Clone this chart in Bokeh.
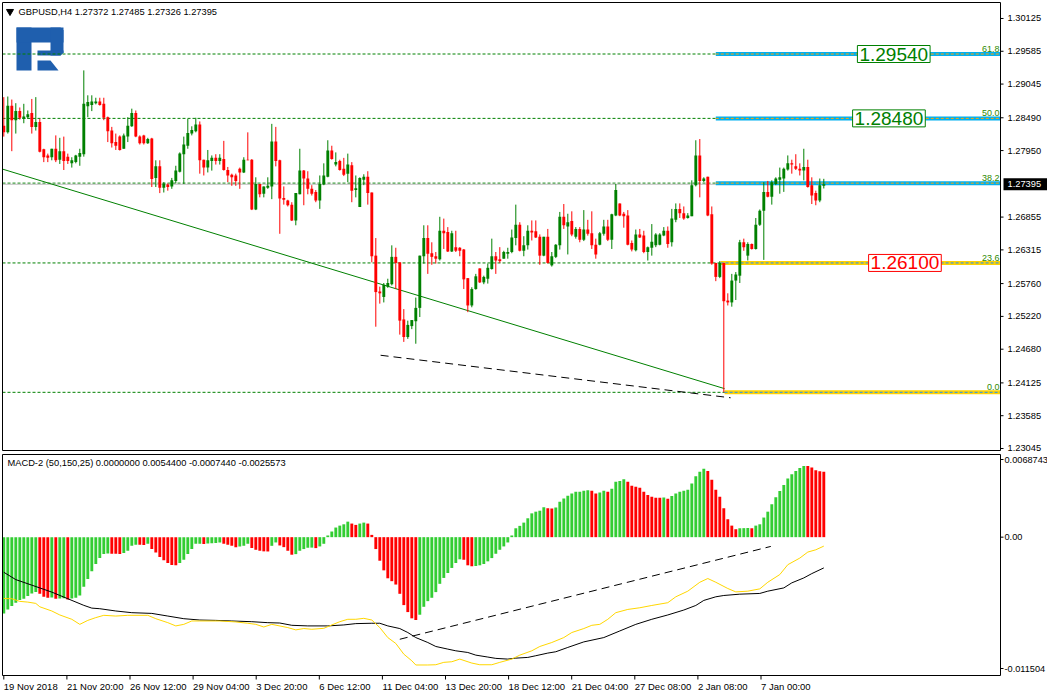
from bokeh.plotting import figure
from bokeh.models import Range1d, Label, ColumnDataSource
from bokeh.layouts import column
from bokeh.embed import file_html
from bokeh.resources import INLINE
from bokeh.core.properties import value

# ------------------------------------------------------------------ data
symbol_header = "GBPUSD,H4  1.27372 1.27485 1.27326 1.27395"
macd_header = "MACD-2 (50,150,25) 0.0000000 0.0054400 -0.0007440 -0.0025573"

opens = [
 1.2836, 1.2825, 1.2869, 1.2845, 1.2860, 1.2847, 1.2850, 1.2857, 1.2834, 1.2842,
 1.2797, 1.2787, 1.2784, 1.2798, 1.2780, 1.2794, 1.2785, 1.2774, 1.2776, 1.2785,
 1.2789, 1.2868, 1.2870, 1.2873, 1.2876, 1.2872, 1.2850, 1.2828, 1.2809, 1.2818,
 1.2798, 1.2818, 1.2835, 1.2857, 1.2818, 1.2820, 1.2807, 1.2815, 1.2750, 1.2769,
 1.2734, 1.2739, 1.2736, 1.2745, 1.2760, 1.2789, 1.2803, 1.2823, 1.2827, 1.2838,
 1.2780, 1.2767, 1.2778, 1.2783, 1.2778, 1.2781, 1.2763, 1.2755, 1.2754, 1.2765,
 1.2759, 1.2780, 1.2780, 1.2698, 1.2740, 1.2724, 1.2734, 1.2736, 1.2810, 1.2779,
 1.2717, 1.2713, 1.2706, 1.2680, 1.2723, 1.2762, 1.2749, 1.2732, 1.2727, 1.2713,
 1.2739, 1.2752, 1.2795, 1.2772, 1.2778, 1.2765, 1.2757, 1.2771, 1.2730, 1.2702,
 1.2747, 1.2752, 1.2726, 1.2622, 1.2563, 1.2554, 1.2571, 1.2575, 1.2620, 1.2611,
 1.2517, 1.2488, 1.2506, 1.2514, 1.2536, 1.2621, 1.2651, 1.2626, 1.2621, 1.2616,
 1.2663, 1.2661, 1.2629, 1.2636, 1.2635, 1.2632, 1.2585, 1.2540, 1.2567, 1.2601,
 1.2578, 1.2584, 1.2600, 1.2621, 1.2616, 1.2617, 1.2625, 1.2628, 1.2651, 1.2673,
 1.2630, 1.2639, 1.2663, 1.2662, 1.2653, 1.2622, 1.2653, 1.2606, 1.2620, 1.2639,
 1.2686, 1.2670, 1.2679, 1.2653, 1.2666, 1.2648, 1.2665, 1.2659, 1.2640, 1.2640,
 1.2658, 1.2670, 1.2648, 1.2688, 1.2708, 1.2691, 1.2688, 1.2643, 1.2631, 1.2657,
 1.2655, 1.2628, 1.2635, 1.2639, 1.2640, 1.2655, 1.2663, 1.2644, 1.2681, 1.2699,
 1.2692, 1.2684, 1.2687, 1.2738, 1.2787, 1.2745, 1.2752, 1.2690, 1.2610, 1.2587,
 1.2610, 1.2548, 1.2545, 1.2581, 1.2589, 1.2644, 1.2622, 1.2641, 1.2633, 1.2673,
 1.2696, 1.2727, 1.2719, 1.2740, 1.2747, 1.2749, 1.2764, 1.2774, 1.2769, 1.2765,
 1.2762, 1.2768, 1.2738, 1.2725, 1.2713, 1.27372]

highs = [
 1.2883, 1.2884, 1.2879, 1.2873, 1.2866, 1.2872, 1.2861, 1.2880, 1.2883, 1.2847,
 1.2798, 1.2790, 1.2798, 1.2820, 1.2816, 1.2818, 1.2790, 1.2784, 1.2788, 1.2798,
 1.2927, 1.2886, 1.2886, 1.2882, 1.2882, 1.2882, 1.2851, 1.2834, 1.2823, 1.2820,
 1.2823, 1.2850, 1.2864, 1.2861, 1.2820, 1.2821, 1.2816, 1.2816, 1.2779, 1.2779,
 1.2743, 1.2741, 1.2750, 1.2770, 1.2792, 1.2818, 1.2847, 1.2835, 1.2849, 1.2843,
 1.2780, 1.2796, 1.2787, 1.2789, 1.2789, 1.2811, 1.2768, 1.2757, 1.2757, 1.2767,
 1.2784, 1.2825, 1.2781, 1.2751, 1.2740, 1.2736, 1.2751, 1.2839, 1.2834, 1.2780,
 1.2736, 1.2714, 1.2710, 1.2725, 1.2798, 1.2763, 1.2761, 1.2738, 1.2730, 1.2754,
 1.2774, 1.2812, 1.2803, 1.2792, 1.2780, 1.2783, 1.2790, 1.2776, 1.2754, 1.2751,
 1.2756, 1.2761, 1.2726, 1.2651, 1.2571, 1.2577, 1.2584, 1.2639, 1.2635, 1.2611,
 1.2534, 1.2515, 1.2516, 1.2553, 1.2622, 1.2672, 1.2672, 1.2644, 1.2628, 1.2686,
 1.2683, 1.2669, 1.2663, 1.2663, 1.2636, 1.2633, 1.2585, 1.2570, 1.2592, 1.2601,
 1.2589, 1.2609, 1.2650, 1.2628, 1.2636, 1.2630, 1.2635, 1.2665, 1.2706, 1.2677,
 1.2654, 1.2672, 1.2680, 1.2680, 1.2657, 1.2653, 1.2666, 1.2628, 1.2641, 1.2694,
 1.2707, 1.2691, 1.2695, 1.2669, 1.2669, 1.2697, 1.2681, 1.2695, 1.2650, 1.2661,
 1.2681, 1.2681, 1.2691, 1.2740, 1.2708, 1.2694, 1.2697, 1.2647, 1.2665, 1.2666,
 1.2663, 1.2637, 1.2674, 1.2659, 1.2659, 1.2669, 1.2670, 1.2699, 1.2708, 1.2708,
 1.2703, 1.2692, 1.2746, 1.2812, 1.2814, 1.2751, 1.2752, 1.2703, 1.2610, 1.2613,
 1.2610, 1.2560, 1.2592, 1.2595, 1.2648, 1.2650, 1.2644, 1.2642, 1.2684, 1.2698,
 1.2743, 1.2745, 1.2746, 1.2751, 1.2767, 1.2767, 1.2787, 1.2780, 1.2789, 1.2774,
 1.2798, 1.2780, 1.2751, 1.2729, 1.2749, 1.27485]

lows = [
 1.2818, 1.2823, 1.2794, 1.2823, 1.2846, 1.2840, 1.2847, 1.2823, 1.2828, 1.2792,
 1.2776, 1.2776, 1.2779, 1.2776, 1.2773, 1.2763, 1.2773, 1.2767, 1.2774, 1.2770,
 1.2785, 1.2850, 1.2860, 1.2871, 1.2869, 1.2845, 1.2809, 1.2800, 1.2796, 1.2795,
 1.2798, 1.2809, 1.2834, 1.2817, 1.2805, 1.2805, 1.2806, 1.2735, 1.2735, 1.2725,
 1.2726, 1.2729, 1.2732, 1.2741, 1.2759, 1.2740, 1.2798, 1.2820, 1.2825, 1.2757,
 1.2754, 1.2759, 1.2762, 1.2772, 1.2772, 1.2762, 1.2743, 1.2737, 1.2737, 1.2732,
 1.2758, 1.2779, 1.2697, 1.2697, 1.2718, 1.2718, 1.2732, 1.2715, 1.2769, 1.2658,
 1.2706, 1.2703, 1.2679, 1.2672, 1.2723, 1.2705, 1.2723, 1.2721, 1.2710, 1.2699,
 1.2738, 1.2751, 1.2780, 1.2769, 1.2762, 1.2753, 1.2743, 1.2710, 1.2718, 1.2702,
 1.2738, 1.2706, 1.2611, 1.2505, 1.2543, 1.2545, 1.2569, 1.2573, 1.2567, 1.2492,
 1.2480, 1.2485, 1.2501, 1.2477, 1.2521, 1.2609, 1.2592, 1.2607, 1.2609, 1.2614,
 1.2633, 1.2628, 1.2628, 1.2628, 1.2621, 1.2567, 1.2529, 1.2537, 1.2566, 1.2577,
 1.2575, 1.2576, 1.2599, 1.2592, 1.2610, 1.2617, 1.2617, 1.2626, 1.2639, 1.2629,
 1.2621, 1.2632, 1.2647, 1.2651, 1.2607, 1.2621, 1.2609, 1.2604, 1.2618, 1.2632,
 1.2666, 1.2624, 1.2654, 1.2650, 1.2644, 1.2646, 1.2655, 1.2633, 1.2617, 1.2639,
 1.2655, 1.2646, 1.2633, 1.2687, 1.2687, 1.2668, 1.2639, 1.2629, 1.2629, 1.2651,
 1.2626, 1.2614, 1.2622, 1.2636, 1.2639, 1.2654, 1.2635, 1.2637, 1.2677, 1.2684,
 1.2681, 1.2683, 1.2687, 1.2736, 1.2718, 1.2743, 1.2687, 1.2607, 1.2580, 1.2585,
 1.2397, 1.2540, 1.2538, 1.2549, 1.2577, 1.2630, 1.2614, 1.2632, 1.2632, 1.2671,
 1.2615, 1.2718, 1.2706, 1.2738, 1.2724, 1.2727, 1.2762, 1.2757, 1.2763, 1.2754,
 1.2746, 1.2734, 1.2707, 1.2705, 1.2710, 1.27326]

closes = [
 1.2825, 1.2869, 1.2845, 1.2860, 1.2849, 1.2851, 1.2855, 1.2834, 1.2842, 1.2793,
 1.2784, 1.2783, 1.2798, 1.2779, 1.2794, 1.2778, 1.2778, 1.2779, 1.2787, 1.2791,
 1.2872, 1.2875, 1.2876, 1.2876, 1.2870, 1.2849, 1.2827, 1.2807, 1.2803, 1.2796,
 1.2820, 1.2836, 1.2857, 1.2818, 1.2807, 1.2807, 1.2814, 1.2748, 1.2769, 1.2734,
 1.2741, 1.2735, 1.2746, 1.2762, 1.2790, 1.2805, 1.2824, 1.2829, 1.2838, 1.2779,
 1.2767, 1.2779, 1.2783, 1.2778, 1.2783, 1.2763, 1.2754, 1.2751, 1.2745, 1.2759,
 1.2780, 1.2779, 1.2698, 1.2740, 1.2723, 1.2736, 1.2737, 1.2810, 1.2778, 1.2716,
 1.2714, 1.2705, 1.2680, 1.2725, 1.2762, 1.2749, 1.2732, 1.2724, 1.2713, 1.2740,
 1.2754, 1.2795, 1.2781, 1.2776, 1.2763, 1.2755, 1.2772, 1.2729, 1.2733, 1.2750,
 1.2752, 1.2725, 1.2621, 1.2562, 1.2560, 1.2574, 1.2577, 1.2620, 1.2610, 1.2515,
 1.2488, 1.2508, 1.2516, 1.2536, 1.2622, 1.2651, 1.2625, 1.2620, 1.2617, 1.2663,
 1.2659, 1.2629, 1.2659, 1.2630, 1.2630, 1.2583, 1.2540, 1.2567, 1.2588, 1.2578,
 1.2587, 1.2602, 1.2621, 1.2614, 1.2613, 1.2628, 1.2628, 1.2652, 1.2673, 1.2630,
 1.2639, 1.2663, 1.2660, 1.2652, 1.2622, 1.2653, 1.2610, 1.2621, 1.2640, 1.2686,
 1.2672, 1.2677, 1.2657, 1.2666, 1.2648, 1.2665, 1.2658, 1.2639, 1.2624, 1.2659,
 1.2670, 1.2648, 1.2690, 1.2730, 1.2688, 1.2687, 1.2640, 1.2632, 1.2657, 1.2652,
 1.2628, 1.2636, 1.2645, 1.2657, 1.2657, 1.2663, 1.2641, 1.2683, 1.2699, 1.2692,
 1.2683, 1.2688, 1.2738, 1.2787, 1.2745, 1.2749, 1.2688, 1.2609, 1.2587, 1.2610,
 1.2547, 1.2545, 1.2581, 1.2591, 1.2644, 1.2636, 1.2641, 1.2633, 1.2673, 1.2696,
 1.2727, 1.2719, 1.2743, 1.2749, 1.2751, 1.2765, 1.2774, 1.2772, 1.2765, 1.2762,
 1.2768, 1.2735, 1.2721, 1.2713, 1.2738, 1.27395]

macd_hist = [
 -0.00634, -0.00601, -0.00573, -0.00545, -0.00523, -0.00512, -0.00490, -0.00468, -0.00457, -0.00471,
 -0.00496, -0.00504, -0.00502, -0.00512, -0.00510, -0.00508, -0.00518, -0.00510, -0.00504, -0.00485,
 -0.00413, -0.00347, -0.00284, -0.00223, -0.00174, -0.00141, -0.00135, -0.00137, -0.00138, -0.00139,
 -0.00132, -0.00113, -0.00072, -0.00063, -0.00064, -0.00065, -0.00055, -0.00099, -0.00127, -0.00165,
 -0.00193, -0.00215, -0.00231, -0.00233, -0.00215, -0.00187, -0.00141, -0.00099, -0.00055, -0.00054,
 -0.00056, -0.00053, -0.00050, -0.00048, -0.00044, -0.00055, -0.00063, -0.00072, -0.00083, -0.00077,
 -0.00072, -0.00055, -0.00091, -0.00105, -0.00113, -0.00118, -0.00119, -0.00072, -0.00044, -0.00069,
 -0.00083, -0.00113, -0.00146, -0.00141, -0.00113, -0.00099, -0.00088, -0.00087, -0.00091, -0.00077,
 -0.00055, 0.00014, 0.00047, 0.00080, 0.00096, 0.00107, 0.00129, 0.00113, 0.00102, 0.00113,
 0.00121, 0.00113, 0.00019, -0.00099, -0.00196, -0.00276, -0.00342, -0.00366, -0.00394, -0.00471,
 -0.00565, -0.00623, -0.00675, -0.00689, -0.00645, -0.00579, -0.00532, -0.00504, -0.00457, -0.00388,
 -0.00339, -0.00298, -0.00256, -0.00215, -0.00184, -0.00188, -0.00234, -0.00242, -0.00240, -0.00234,
 -0.00223, -0.00201, -0.00174, -0.00138, -0.00105, -0.00077, -0.00044, 0.00014, 0.00074, 0.00094,
 0.00121, 0.00157, 0.00198, 0.00212, 0.00220, 0.00248, 0.00240, 0.00239, 0.00246, 0.00295,
 0.00322, 0.00344, 0.00364, 0.00377, 0.00378, 0.00386, 0.00391, 0.00386, 0.00364, 0.00372,
 0.00386, 0.00377, 0.00402, 0.00460, 0.00468, 0.00482, 0.00460, 0.00427, 0.00419, 0.00410,
 0.00377, 0.00350, 0.00336, 0.00328, 0.00327, 0.00329, 0.00320, 0.00342, 0.00364, 0.00377,
 0.00386, 0.00394, 0.00446, 0.00507, 0.00543, 0.00568, 0.00551, 0.00477, 0.00394, 0.00336,
 0.00240, 0.00149, 0.00096, 0.00066, 0.00074, 0.00075, 0.00076, 0.00074, 0.00096, 0.00107,
 0.00163, 0.00212, 0.00273, 0.00331, 0.00383, 0.00433, 0.00488, 0.00523, 0.00551, 0.00576,
 0.00592, 0.00591, 0.00579, 0.00557, 0.00549, 0.00544]

macd_black_x = [0, 3, 7, 12, 16, 20, 22, 24, 28, 32, 37, 41, 45, 49, 53, 57, 62, 66, 69, 72,
                76, 81, 85, 88, 92, 94, 96, 99, 101, 103, 106, 108, 111, 113, 116, 118, 121, 123, 126, 128,
                131, 133, 136, 138, 141, 145, 150, 154, 158, 162, 166, 170, 173, 175, 178, 180, 184, 189, 191, 195,
                197, 200, 202, 205]
macd_black = [-0.00292, -0.00353, -0.00399, -0.00457, -0.00512, -0.00567, -0.00590, -0.00595, -0.00614, -0.00628,
              -0.00634, -0.00656, -0.00678, -0.00689, -0.00692, -0.00697, -0.00703, -0.00711, -0.00714, -0.00733,
              -0.00738, -0.00738, -0.00730, -0.00719, -0.00716, -0.00716, -0.00738, -0.00760, -0.00793, -0.00835,
              -0.00876, -0.00909, -0.00931, -0.00945, -0.00959, -0.00981, -0.00997, -0.01008, -0.01014, -0.01006,
              -0.01000, -0.00986, -0.00964, -0.00953, -0.00917, -0.00871, -0.00835, -0.00780, -0.00725, -0.00683,
              -0.00647, -0.00606, -0.00568, -0.00526, -0.00496, -0.00485, -0.00474, -0.00468, -0.00449, -0.00422,
              -0.00380, -0.00339, -0.00303, -0.0025573]

macd_yellow_x = [0, 2, 4, 6, 8, 9, 12, 14, 17, 19, 21, 23, 25, 28, 31, 36, 38, 41, 43, 45,
                 47, 49, 54, 58, 61, 63, 65, 67, 71, 73, 75, 77, 80, 82, 84, 86, 88, 90, 92, 94,
                 96, 98, 100, 102, 103, 106, 108, 110, 112, 114, 117, 119, 122, 124, 127, 129, 132, 134, 137, 140,
                 142, 145, 147, 149, 151, 153, 156, 159, 162, 166, 168, 171, 174, 176, 178, 181, 183, 186, 189, 191,
                 194, 196, 199, 201, 203, 205]
macd_yellow = [-0.00510, -0.00512, -0.00534, -0.00540, -0.00551, -0.00579, -0.00614, -0.00647, -0.00683, -0.00725,
               -0.00692, -0.00669, -0.00650, -0.00656, -0.00650, -0.00650, -0.00678, -0.00711, -0.00738, -0.00725,
               -0.00697, -0.00697, -0.00697, -0.00705, -0.00716, -0.00725, -0.00747, -0.00725, -0.00752, -0.00771,
               -0.00760, -0.00766, -0.00758, -0.00730, -0.00703, -0.00683, -0.00683, -0.00675, -0.00689, -0.00752,
               -0.00835, -0.00884, -0.00973, -0.01028, -0.01063, -0.01063, -0.01061, -0.01041, -0.01036, -0.01014,
               -0.01047, -0.01061, -0.01061, -0.01041, -0.01014, -0.00981, -0.00945, -0.00909, -0.00876, -0.00835,
               -0.00793, -0.00760, -0.00733, -0.00725, -0.00683, -0.00628, -0.00601, -0.00587, -0.00568, -0.00545,
               -0.00496, -0.00449, -0.00375, -0.00344, -0.00375, -0.00427, -0.00455, -0.00449, -0.00430, -0.00375,
               -0.00311, -0.00229, -0.00174, -0.00124, -0.00105, -0.000744]

price_ticks = [1.30125, 1.29585, 1.29045, 1.28490, 1.27950, 1.26855, 1.26315,
               1.25760, 1.25220, 1.24680, 1.24125, 1.23585, 1.23045]
price_tick_labels = ["1.30125", "1.29585", "1.29045", "1.28490", "1.27950", "1.26855", "1.26315",
                     "1.25760", "1.25220", "1.24680", "1.24125", "1.23585", "1.23045"]
bid_price = 1.27395
bid_label = "1.27395"
price_range = (1.23012, 1.30388)
macd_range = (-0.011504, 0.0068743)
macd_tick_labels = ["0.0068743", "0.00", "-0.011504"]
date_labels = ["19 Nov 2018", "21 Nov 20:00", "26 Nov 12:00", "29 Nov 04:00", "3 Dec 20:00",
               "6 Dec 12:00", "11 Dec 04:00", "13 Dec 20:00", "18 Dec 12:00", "21 Dec 04:00",
               "27 Dec 08:00", "2 Jan 08:00", "7 Jan 00:00"]

fib_levels = ["61.8", "50.0", "38.2", "23.6", "0.0"]
fib_prices = [1.29540, 1.28480, 1.27414, 1.26100, 1.23970]
fib_band_start = [178.0, 178.0, 178.0, 179.2, 180.2]
fib_band_kind = ["blue", "blue", "blue", "yellow", "yellow"]
fib_box_texts = ["1.29540", "1.28480", "1.26100"]
fib_box_prices = [1.29540, 1.28480, 1.26100]
fib_box_bars = [213.4, 212.2, 216.2]
fib_box_kind = ["green", "green", "red"]

trend_green = ([-0.33, 180.2], [1.27645, 1.2403])
trend_dash_main = ([94.2, 181.7], [1.2458, 1.2388])
trend_dash_macd = ([99.0, 191.75], [-0.00849, -0.00077])

# ------------------------------------------------------------------ geometry (page pixels)
W = 1047
FONT = "Liberation Sans"
PX_L, PX_R = 2, 1000                 # chart border (left / right), page x
BAR_L, BAR_R = -0.325, 249.175       # bar index at the borders
K = (PX_R - PX_L) / (BAR_R - BAR_L)  # px per bar


def bx(page_x):
    return BAR_L + (page_x - PX_L) / K


XR = Range1d(bx(0), bx(W))

MAIN_Y0, MAIN_H = 0, 453
MB_T, MB_B = 2, 450                  # main border, page y
P_BOT, P_TOP = price_range


def pp(page_y):
    return P_TOP - (page_y - MB_T) * (P_TOP - P_BOT) / (MB_B - MB_T)


MACD_Y0, MACD_H = MAIN_Y0 + MAIN_H, 243
DB_T, DB_B = 454, 675                # macd border, page y
M_BOT, M_TOP = macd_range


def mp(page_y):
    return M_TOP - (page_y - DB_T) * (M_TOP - M_BOT) / (DB_B - DB_T)


UP, DN = "#008000", "#FF0000"


def base_fig(h, yr):
    f = figure(width=W, height=h, x_range=XR, y_range=yr,
               x_axis_location=None, y_axis_location=None,
               output_backend="svg", toolbar_location=None, min_border=0,
               background_fill_color="white", border_fill_color="white")
    f.grid.visible = False
    f.outline_line_color = None
    return f


# ------------------------------------------------------------------ main panel
p = base_fig(MAIN_H, Range1d(pp(MAIN_Y0 + MAIN_H), pp(MAIN_Y0)))

logo_polys = [
    [(16, 27), (31, 27), (31, 70), (16, 70)],
    [(16, 27), (60, 27), (63, 30), (63, 42), (16, 42)],
    [(50, 27), (63, 27), (63, 52), (60, 55), (50, 55)],
    [(37, 50), (63, 50), (63, 52), (60, 55), (37, 55)],
    [(37, 60), (50, 60), (58, 70), (37, 70)],
]
p.patches([[bx(a) for a, b in poly] for poly in logo_polys],
          [[pp(b) for a, b in poly] for poly in logo_polys],
          fill_color="#1f5fae", line_color=None)

n = len(fib_prices)
p.segment(x0=[BAR_L] * n, x1=[BAR_R] * n, y0=fib_prices, y1=fib_prices,
          line_color="#008000", line_dash="3 2", line_width=1)
p.segment(x0=[BAR_L], x1=[BAR_R], y0=[bid_price], y1=[bid_price], line_color="#C0C0C0", line_width=1)

band_col = {"blue": "#00B0F0", "yellow": "#FFD200"}
band_dash = {"blue": "#FFA500", "yellow": "#1E90FF"}
p.segment(x0=fib_band_start, x1=[BAR_R] * n, y0=fib_prices, y1=fib_prices,
          line_color=[band_col[k] for k in fib_band_kind], line_width=4)
p.segment(x0=fib_band_start, x1=[BAR_R] * n, y0=fib_prices, y1=fib_prices,
          line_color=[band_dash[k] for k in fib_band_kind], line_width=1, line_dash="3 2")

p.line(trend_green[0], trend_green[1], line_color="#008000", line_width=1)
p.line(trend_dash_main[0], trend_dash_main[1], line_color="black", line_width=1, line_dash="8 5")

idx = list(range(len(closes)))
ccol = [UP if c >= o else DN for o, c in zip(opens, closes)]
src = ColumnDataSource(dict(x=idx, h=highs, l=lows,
                            top=[max(o, c) for o, c in zip(opens, closes)],
                            bot=[min(o, c) for o, c in zip(opens, closes)],
                            col=ccol))
p.segment(x0="x", y0="l", x1="x", y1="h", line_color="col", line_width=1, source=src)
p.vbar(x="x", top="top", bottom="bot", width=0.72, fill_color="col", line_color=None, source=src)

ppx = (P_TOP - P_BOT) / (MB_B - MB_T)
p.text(x=[bx(PX_R - 1)] * n, y=[v + 2 * ppx for v in fib_prices], text=fib_levels,
       text_align="right", text_baseline="bottom", text_font=value(FONT),
       text_font_size="9px", text_color="#2f8a00")

box_col = {"green": "#008000", "red": "#FF0000"}
for t, b, pr, k in zip(fib_box_texts, fib_box_bars, fib_box_prices, fib_box_kind):
    p.add_layout(Label(x=b, y=pr, text=t, text_align="left", text_baseline="middle",
                       text_font=FONT, text_font_size="19px", text_color=box_col[k],
                       background_fill_color="white", border_line_color=box_col[k],
                       border_line_width=1, padding=2))

p.scatter(x=[bx(9.5)], y=[pp(11)], marker="inverted_triangle", size=7, color="black")
p.text(x=[bx(18)], y=[pp(11)], text=[symbol_header], text_baseline="middle",
       text_font=value(FONT), text_font_size="9.3px", text_color="black")

# chart border
p.quad(left=[BAR_L], right=[BAR_R], bottom=[P_BOT], top=[P_TOP],
       fill_color=None, line_color="black", line_width=1)

# right price scale
nt = len(price_ticks)
p.segment(x0=[BAR_R] * nt, x1=[bx(PX_R + 3)] * nt, y0=price_ticks, y1=price_ticks,
          line_color="black", line_width=1)
p.text(x=[bx(PX_R + 7)] * nt, y=price_ticks, text=price_tick_labels, text_align="left",
       text_baseline="middle", text_font=value(FONT), text_font_size="9.3px", text_color="black")
p.quad(left=[bx(PX_R + 3)], right=[bx(W)], bottom=[bid_price - 6 * ppx],
       top=[bid_price + 6 * ppx], fill_color="black", line_color=None)
p.text(x=[bx(PX_R + 7)], y=[bid_price], text=[bid_label], text_align="left",
       text_baseline="middle", text_font=value(FONT), text_font_size="9.3px", text_color="white")

# ------------------------------------------------------------------ MACD panel
m = base_fig(MACD_H, Range1d(mp(MACD_Y0 + MACD_H), mp(MACD_Y0)))

hcol = ["#32CD32" if i == 0 or macd_hist[i] > macd_hist[i - 1] else "#FF0000"
        for i in range(len(macd_hist))]
m.vbar(x=idx, top=macd_hist, bottom=0, width=0.72, fill_color=hcol, line_color=None)
m.line(macd_black_x, macd_black, line_color="black", line_width=1)
m.line(macd_yellow_x, macd_yellow, line_color="#FFD700", line_width=1)
m.line(trend_dash_macd[0], trend_dash_macd[1], line_color="black", line_width=1, line_dash="8 5")

m.text(x=[bx(7)], y=[mp(462)], text=[macd_header], text_baseline="middle",
       text_font=value(FONT), text_font_size="9.3px", text_color="black")

m.quad(left=[BAR_L], right=[BAR_R], bottom=[M_BOT], top=[M_TOP],
       fill_color=None, line_color="black", line_width=1)

macd_tick_pos = [mp(459), 0.0, mp(668)]
m.segment(x0=[BAR_R] * 3, x1=[bx(PX_R + 3)] * 3, y0=macd_tick_pos, y1=macd_tick_pos,
          line_color="black", line_width=1)
m.text(x=[bx(PX_R + 4)] * 3, y=macd_tick_pos, text=macd_tick_labels, text_align="left",
       text_baseline="middle", text_font=value(FONT), text_font_size="9.2px", text_color="black")

date_tick_pos = [k * 15.775 for k in range(len(date_labels))]
nd = len(date_labels)
m.segment(x0=date_tick_pos, x1=date_tick_pos, y0=[M_BOT] * nd, y1=[mp(DB_B + 4)] * nd,
          line_color="black", line_width=1)
m.text(x=date_tick_pos, y=[mp(686)] * nd, text=date_labels, text_align="left",
       text_baseline="middle", text_font=value(FONT), text_font_size="9.5px", text_color="black")

layout = column(p, m, spacing=0)
open("out.html", "w").write(file_html(layout, INLINE))
